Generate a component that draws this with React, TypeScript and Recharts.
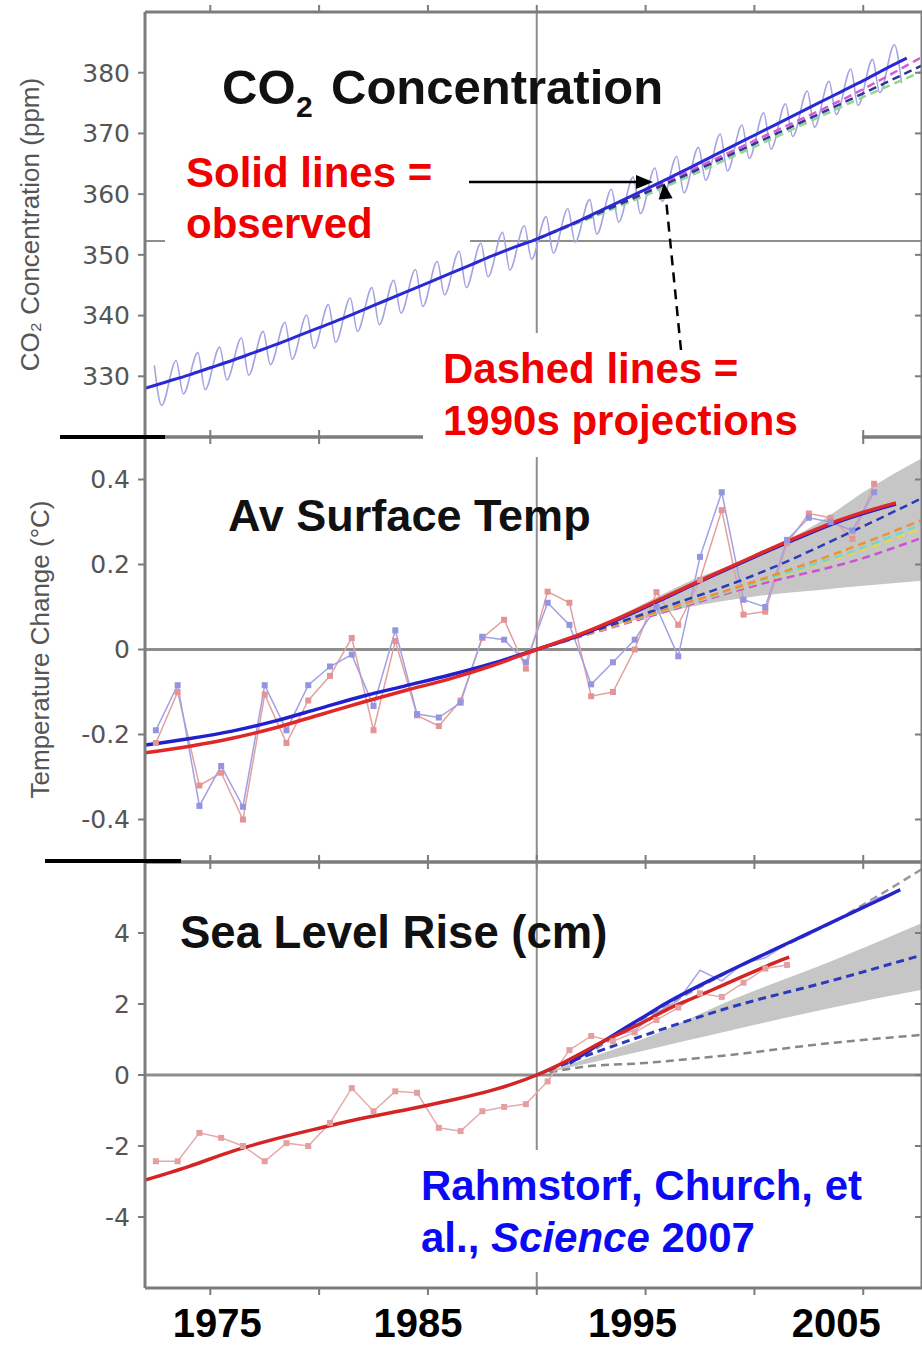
import React from 'react';
import { ComposedChart, Line, Area, XAxis, YAxis, ReferenceLine } from 'recharts';

// shared year axis
const YEAR_DOMAIN: [number, number] = [1972, 2007.7];
const yearTicks = [1975, 1980, 1985, 1990, 1995, 2000, 2005];
const yearLabels = [1975, 1985, 1995, 2005];
const yearLabelShift = [7, -10, -13, -27];

// ---------- CO2 concentration (ppm) ----------
const co2Years = [
  1972, 1973, 1974, 1975, 1976, 1977, 1978, 1979, 1980, 1981, 1982, 1983,
  1984, 1985, 1986, 1987, 1988, 1989, 1990, 1991, 1992, 1993, 1994, 1995,
  1996, 1997, 1998, 1999, 2000, 2001, 2002, 2003, 2004, 2005, 2006, 2007,
];
const co2Trend = [
  328.0, 329.1, 330.2, 331.4, 332.6, 333.9, 335.2, 336.6, 338.0, 339.4, 340.9, 342.4,
  343.9, 345.4, 346.9, 348.4, 349.9, 351.3, 352.6, 354.1, 355.7, 357.4, 359.1, 360.8,
  362.5, 364.3, 366.1, 367.9, 369.7, 371.5, 373.3, 375.1, 376.9, 378.7, 380.6, 382.4,
];
// seasonal maxima (spring) and minima (autumn), 1972..2006
const co2SpringPeak = [
  331.8, 332.6, 333.9, 334.8, 336.3, 337.4, 338.9, 340.1, 341.8, 342.9, 344.6, 345.8,
  347.6, 348.9, 350.6, 351.9, 353.7, 354.8, 356.3, 357.6, 359.1, 360.8, 362.8, 364.3,
  366.2, 367.7, 369.9, 371.4, 373.4, 374.9, 377.0, 378.6, 380.6, 382.2, 384.6,
];
const co2AutumnLow = [
  325.2, 327.1, 327.8, 329.4, 330.2, 331.9, 332.8, 334.6, 335.6, 337.4, 338.5, 340.4,
  341.5, 343.4, 344.6, 346.4, 347.5, 349.3, 350.3, 352.1, 353.4, 355.4, 356.8, 358.8,
  360.2, 362.3, 363.8, 365.9, 367.4, 369.5, 371.0, 373.1, 374.6, 376.7, 378.3,
];
const co2ProjYears = [1990, 1995, 2000, 2005, 2007.7];
const co2ProjBlue = [352.6, 360.2, 368.3, 376.6, 381.2];
const co2ProjMagenta = [352.6, 360.5, 368.8, 377.3, 382.6];
const co2ProjGreen = [352.6, 359.8, 367.8, 376.0, 380.2];
const co2Ticks = [330, 340, 350, 360, 370, 380];
const co2At1990 = 352.3;

// ---------- surface temperature change (°C) ----------
const tempObsYears = [
  1972.5, 1973.5, 1974.5, 1975.5, 1976.5, 1977.5, 1978.5, 1979.5, 1980.5, 1981.5,
  1982.5, 1983.5, 1984.5, 1985.5, 1986.5, 1987.5, 1988.5, 1989.5, 1990.5, 1991.5,
  1992.5, 1993.5, 1994.5, 1995.5, 1996.5, 1997.5, 1998.5, 1999.5, 2000.5, 2001.5,
  2002.5, 2003.5, 2004.5, 2005.5,
];
const tempGiss = [
  -0.19, -0.084, -0.368, -0.274, -0.37, -0.084, -0.19, -0.084, -0.04, -0.012,
  -0.133, 0.045, -0.152, -0.16, -0.125, 0.03, 0.023, -0.03, 0.11, 0.058,
  -0.082, -0.03, 0.023, 0.1, -0.016, 0.218, 0.37, 0.117, 0.1, 0.258,
  0.31, 0.3, 0.28, 0.37,
];
const tempHadley = [
  -0.22, -0.1, -0.32, -0.29, -0.4, -0.106, -0.22, -0.12, -0.062, 0.027,
  -0.19, 0.02, -0.155, -0.18, -0.12, 0.027, 0.07, -0.045, 0.136, 0.11,
  -0.11, -0.1, 0.0, 0.135, 0.058, 0.164, 0.328, 0.082, 0.089, 0.25,
  0.32, 0.31, 0.26, 0.39,
];
const tempTrendYears = [
  1972, 1974, 1976, 1978, 1980, 1982, 1984, 1986, 1988, 1990,
  1992, 1994, 1996, 1998, 2000, 2002, 2004, 2006, 2006.5,
];
const tempTrendGiss = [
  -0.225, -0.21, -0.192, -0.168, -0.139, -0.11, -0.085, -0.06, -0.032, 0,
  0.034, 0.077, 0.124, 0.172, 0.218, 0.262, 0.303, 0.335, 0.342,
];
const tempTrendHadley = [
  -0.243, -0.228, -0.209, -0.184, -0.154, -0.124, -0.096, -0.069, -0.037, 0,
  0.036, 0.079, 0.126, 0.174, 0.22, 0.265, 0.306, 0.338, 0.345,
];
const tempProjYears = [1990, 1995, 2000, 2005, 2007.7];
const tempProjBlue = [0, 0.085, 0.175, 0.29, 0.356];
const tempProjOrange = [0, 0.08, 0.16, 0.25, 0.305];
const tempProjCyan = [0, 0.079, 0.157, 0.24, 0.295];
const tempProjYellow = [0, 0.078, 0.155, 0.235, 0.285];
const tempProjMagenta = [0, 0.075, 0.15, 0.215, 0.263];
const tempBandYears = [1990, 1993, 1995, 1997, 2000, 2003, 2005, 2007.7];
const tempBandLow = [0, 0.05, 0.075, 0.1, 0.125, 0.14, 0.15, 0.162];
const tempBandHigh = [0, 0.06, 0.11, 0.16, 0.22, 0.3, 0.37, 0.45];
const tempTicks = [-0.4, -0.2, 0, 0.2, 0.4];

// ---------- sea level rise (cm) ----------
const seaTideYears = [
  1972.5, 1973.5, 1974.5, 1975.5, 1976.5, 1977.5, 1978.5, 1979.5, 1980.5, 1981.5,
  1982.5, 1983.5, 1984.5, 1985.5, 1986.5, 1987.5, 1988.5, 1989.5, 1990.5, 1991.5,
  1992.5, 1993.5, 1994.5, 1995.5, 1996.5, 1997.5, 1998.5, 1999.5, 2000.5, 2001.5,
];
const seaTide = [
  -2.43, -2.43, -1.63, -1.77, -2.0, -2.43, -1.92, -2.0, -1.35, -0.37,
  -1.02, -0.46, -0.5, -1.49, -1.58, -1.02, -0.9, -0.82, -0.18, 0.7,
  1.1, 0.95, 1.2, 1.55, 1.9, 2.3, 2.2, 2.6, 3.0, 3.1,
];
const seaSatYears = [
  1993.5, 1994.5, 1995.5, 1996.5, 1997.5, 1998.5, 1999.5, 2000.5, 2001.5, 2002.5,
  2003.5, 2004.5, 2005.5, 2006.5,
];
const seaSat = [1.1, 1.25, 1.75, 2.1, 2.95, 2.65, 3.15, 3.3, 3.7, 3.95, 4.3, 4.55, 4.95, 5.15];
const seaTideTrendYears = [
  1972, 1974, 1976, 1978, 1980, 1982, 1984, 1986, 1988, 1989, 1990, 1991,
  1992, 1993, 1994, 1995, 1996, 1997, 1998, 1999, 2000, 2001, 2001.6,
];
const seaTideTrend = [
  -2.96, -2.58, -2.15, -1.8, -1.5, -1.22, -0.98, -0.72, -0.42, -0.23, 0, 0.28,
  0.6, 0.93, 1.22, 1.52, 1.85, 2.12, 2.38, 2.65, 2.92, 3.18, 3.32,
];
const seaSatTrendYears = [
  1991.5, 1992, 1993, 1994, 1995, 1996, 1997, 1998, 1999, 2000, 2001, 2002,
  2003, 2004, 2005, 2006, 2006.7,
];
const seaSatTrend = [
  0.33, 0.53, 0.92, 1.3, 1.67, 2.04, 2.37, 2.68, 2.98, 3.27, 3.56, 3.85,
  4.14, 4.43, 4.72, 5.01, 5.22,
];
const seaProjYears = [1990, 1992, 1995, 1998.8, 2003.5, 2007.7];
const seaProjMid = [0, 0.48, 1.13, 1.89, 2.65, 3.38];
const seaProjLow = [0, 0.22, 0.34, 0.56, 0.9, 1.13];
const seaProjHigh = [0, 0.5, 1.62, 2.9, 4.28, 5.8];
const seaBandLow = [0, 0.28, 0.7, 1.24, 1.89, 2.4];
const seaBandHigh = [0, 0.4, 1.04, 2.08, 3.2, 4.28];
const seaTicks = [-4, -2, 0, 2, 4];

const pts = (xs: number[], ys: number[]) => xs.map((x, i) => ({ x, v: ys[i] }));
const band = (xs: number[], lo: number[], hi: number[]) =>
  xs.map((x, i) => ({ x, band: [lo[i], hi[i]] }));

const co2Seasonal = co2Years.slice(0, co2SpringPeak.length).flatMap((y, i) => [
  { x: y + 0.43, v: co2SpringPeak[i] },
  { x: y + 0.76, v: co2AutumnLow[i] },
]);

const FRAME = '#7c7c7c';
const GRID = '#8e8e8e';
const SANS = '"Liberation Sans", Arial, sans-serif';
const tickFont = { fontSize: 25, fill: '#555', fontFamily: '"DejaVu Sans", sans-serif' };
const axisLine = { stroke: FRAME, strokeWidth: 3 };
const tickLine = { stroke: FRAME, strokeWidth: 2 };
const noTick = () => <g />;

const squareDot = (color: string) => (p: any) => (
  <rect key={p.index} x={p.cx - 3} y={p.cy - 3} width={6} height={6} fill={color} />
);

const YearTick = (p: any) => {
  const i = yearLabels.indexOf(p.payload.value);
  if (i < 0) return <g />;
  return (
    <text x={p.x + yearLabelShift[i]} y={p.y + 40} textAnchor="middle" fontSize={40}
      fontWeight="bold" fill="#000" fontFamily={SANS}>
      {p.payload.value}
    </text>
  );
};

// frame = bottom/top x axes + left/right y axes
const frameAxes = (domain: [number, number], ticks: number[], bottomHeight: number, yLabel?: any, bottomTick: any = noTick) => [
  <XAxis key="xb" dataKey="x" type="number" domain={YEAR_DOMAIN} ticks={yearTicks} interval={0}
    allowDataOverflow height={bottomHeight} tick={bottomTick} tickSize={7}
    axisLine={axisLine} tickLine={tickLine} />,
  <XAxis key="xt" xAxisId="top" orientation="top" dataKey="x" type="number" domain={YEAR_DOMAIN}
    ticks={yearTicks} interval={0} allowDataOverflow height={6} tick={noTick} tickSize={7}
    axisLine={axisLine} tickLine={tickLine} />,
  <YAxis key="yl" type="number" domain={domain} ticks={ticks} interval={0} allowDataOverflow
    width={125} tick={tickFont} tickSize={7} tickMargin={8} axisLine={axisLine}
    tickLine={tickLine} label={yLabel} />,
  <YAxis key="yr" yAxisId="right" orientation="right" type="number" domain={domain} ticks={ticks}
    interval={0} allowDataOverflow width={1} mirror tick={noTick} tickSize={7}
    axisLine={axisLine} tickLine={tickLine} />,
];

const axisLabel = (value: string, offset: number) => ({
  value,
  angle: -90,
  position: 'insideLeft',
  offset,
  style: { textAnchor: 'middle', fontSize: 26, fill: '#555', fontFamily: SANS },
});

const margin = { top: 6, right: 0, bottom: 13, left: 20 };

function Co2Panel() {
  return (
    <ComposedChart width={922} height={460} margin={margin}>
      {frameAxes([320, 390], co2Ticks, 10, axisLabel('CO₂ Concentration (ppm)', 10))}
      <ReferenceLine x={1990} stroke={GRID} strokeWidth={2} />
      <ReferenceLine y={co2At1990} stroke={GRID} strokeWidth={2} />
      <Line data={co2Seasonal} dataKey="v" type="monotone" stroke="#a4a4e4" strokeWidth={1.6} dot={false} isAnimationActive={false} />
      <Line data={pts(co2ProjYears, co2ProjGreen)} dataKey="v" type="monotone" stroke="#90d890" strokeWidth={2.5} strokeDasharray="8 5" dot={false} isAnimationActive={false} />
      <Line data={pts(co2ProjYears, co2ProjMagenta)} dataKey="v" type="monotone" stroke="#d65ad6" strokeWidth={2.5} strokeDasharray="8 5" dot={false} isAnimationActive={false} />
      <Line data={pts(co2ProjYears, co2ProjBlue)} dataKey="v" type="monotone" stroke="#333399" strokeWidth={2.5} strokeDasharray="8 5" dot={false} isAnimationActive={false} />
      <Line data={pts(co2Years, co2Trend)} dataKey="v" type="monotone" stroke="#2a2ad2" strokeWidth={3} dot={false} isAnimationActive={false} />
    </ComposedChart>
  );
}

function TempPanel() {
  return (
    <ComposedChart width={922} height={460} margin={margin}>
      {frameAxes([-0.5, 0.5], tempTicks, 10, axisLabel('Temperature Change (°C)', 20))}
      <ReferenceLine x={1990} stroke={GRID} strokeWidth={2} />
      <ReferenceLine y={0} stroke={GRID} strokeWidth={3} />
      <Area data={band(tempBandYears, tempBandLow, tempBandHigh)} dataKey="band" type="monotone" stroke="none" fill="#c6c6c6" fillOpacity={1} isAnimationActive={false} />
      <Line data={pts(tempObsYears, tempHadley)} dataKey="v" stroke="#e3a0a0" strokeWidth={1.5} dot={squareDot('#e39494')} isAnimationActive={false} />
      <Line data={pts(tempObsYears, tempGiss)} dataKey="v" stroke="#a0a0e6" strokeWidth={1.5} dot={squareDot('#9494e0')} isAnimationActive={false} />
      <Line data={pts(tempProjYears, tempProjMagenta)} dataKey="v" type="monotone" stroke="#d050d0" strokeWidth={2.5} strokeDasharray="8 5" dot={false} isAnimationActive={false} />
      <Line data={pts(tempProjYears, tempProjYellow)} dataKey="v" type="monotone" stroke="#e8d840" strokeWidth={2.5} strokeDasharray="8 5" dot={false} isAnimationActive={false} />
      <Line data={pts(tempProjYears, tempProjCyan)} dataKey="v" type="monotone" stroke="#70d8d0" strokeWidth={2.5} strokeDasharray="8 5" dot={false} isAnimationActive={false} />
      <Line data={pts(tempProjYears, tempProjOrange)} dataKey="v" type="monotone" stroke="#f09030" strokeWidth={2.5} strokeDasharray="8 5" dot={false} isAnimationActive={false} />
      <Line data={pts(tempProjYears, tempProjBlue)} dataKey="v" type="monotone" stroke="#2a3ab8" strokeWidth={2.5} strokeDasharray="8 5" dot={false} isAnimationActive={false} />
      <Line data={pts(tempTrendYears, tempTrendGiss)} dataKey="v" type="monotone" stroke="#2020cc" strokeWidth={3.5} dot={false} isAnimationActive={false} />
      <Line data={pts(tempTrendYears, tempTrendHadley)} dataKey="v" type="monotone" stroke="#e02828" strokeWidth={3.5} dot={false} isAnimationActive={false} />
    </ComposedChart>
  );
}

function SeaPanel() {
  return (
    <ComposedChart width={922} height={496} margin={{ ...margin, bottom: 0 }}>
      {frameAxes([-6, 6], seaTicks, 58, undefined, YearTick)}
      <ReferenceLine x={1990} stroke={GRID} strokeWidth={2} />
      <ReferenceLine y={0} stroke={GRID} strokeWidth={3} />
      <Area data={band(seaProjYears, seaBandLow, seaBandHigh)} dataKey="band" type="monotone" stroke="none" fill="#c6c6c6" fillOpacity={1} isAnimationActive={false} />
      <Line data={pts(seaProjYears, seaProjLow)} dataKey="v" type="monotone" stroke="#888" strokeWidth={2.5} strokeDasharray="8 5" dot={false} isAnimationActive={false} />
      <Line data={pts(seaProjYears, seaProjHigh)} dataKey="v" type="monotone" stroke="#999" strokeWidth={2.5} strokeDasharray="8 5" dot={false} isAnimationActive={false} />
      <Line data={pts(seaProjYears, seaProjMid)} dataKey="v" type="monotone" stroke="#2a3ab8" strokeWidth={3} strokeDasharray="8 5" dot={false} isAnimationActive={false} />
      <Line data={pts(seaTideYears, seaTide)} dataKey="v" stroke="#e6aaaa" strokeWidth={1.5} dot={squareDot('#e4a0a0')} isAnimationActive={false} />
      <Line data={pts(seaSatYears, seaSat)} dataKey="v" stroke="#a8a8e8" strokeWidth={1.5} dot={false} isAnimationActive={false} />
      <Line data={pts(seaSatTrendYears, seaSatTrend)} dataKey="v" type="monotone" stroke="#2424cc" strokeWidth={3.5} dot={false} isAnimationActive={false} />
      <Line data={pts(seaTideTrendYears, seaTideTrend)} dataKey="v" type="monotone" stroke="#d42424" strokeWidth={3.5} dot={false} isAnimationActive={false} />
    </ComposedChart>
  );
}

function Annotations() {
  return (
    <svg width={922} height={1346} style={{ position: 'absolute', left: 0, top: 0, pointerEvents: 'none' }}
      fontFamily={SANS} fontWeight="bold">
      {/* panel titles */}
      <text x={222} y={104} fontSize={49} fill="#111">CO</text>
      <text x={296} y={117} fontSize={30} fill="#111">2</text>
      <text x={331} y={104} fontSize={49} fill="#111">Concentration</text>
      <text x={228} y={531} fontSize={45} fill="#111">Av Surface Temp</text>
      <text x={180} y={948} fontSize={45.5} fill="#111">Sea Level Rise (cm)</text>

      {/* white boxes behind the notes */}
      <rect x={165} y={148} width={305} height={98} fill="#fff" />
      <rect x={423} y={333} width={439} height={124} fill="#fff" />
      <rect x={410} y={1150} width={460} height={122} fill="#fff" />

      <text x={186} y={187} fontSize={42} fill="#f00000">Solid lines =</text>
      <text x={186} y={238} fontSize={42} fill="#f00000">observed</text>
      <text x={443} y={383} fontSize={42} fill="#f00000">Dashed lines =</text>
      <text x={443} y={435} fontSize={42} fill="#f00000">1990s projections</text>

      <text x={421} y={1200} fontSize={42} fill="#0a0af5">Rahmstorf, Church, et</text>
      <text x={421} y={1252} fontSize={42} fill="#0a0af5">
        <tspan>al., </tspan>
        <tspan fontStyle="italic">Science</tspan>
        <tspan> 2007</tspan>
      </text>

      {/* arrows */}
      <line x1={469} y1={182} x2={638} y2={182} stroke="#000" strokeWidth={2.5} />
      <polygon points="653,182 636,175 636,189" fill="#000" />
      <line x1={681} y1={350} x2={666} y2={199} stroke="#000" strokeWidth={2.5} strokeDasharray="10 7" />
      <polygon points="664,183 672.6,198.2 658.6,199.6" fill="#000" />

      {/* black separators at left */}
      <rect x={60} y={435} width={105} height={4} fill="#000" />
      <rect x={45} y={859} width={136} height={4} fill="#000" />
    </svg>
  );
}

export default function App() {
  return (
    <div style={{ position: 'absolute', left: 0, top: 0, width: 922, height: 1346, background: '#fff', overflow: 'hidden' }}>
      <div style={{ position: 'absolute', left: 0, top: 0 }}><Co2Panel /></div>
      <div style={{ position: 'absolute', left: 0, top: 425 }}><TempPanel /></div>
      <div style={{ position: 'absolute', left: 0, top: 850 }}><SeaPanel /></div>
      <Annotations />
    </div>
  );
}
